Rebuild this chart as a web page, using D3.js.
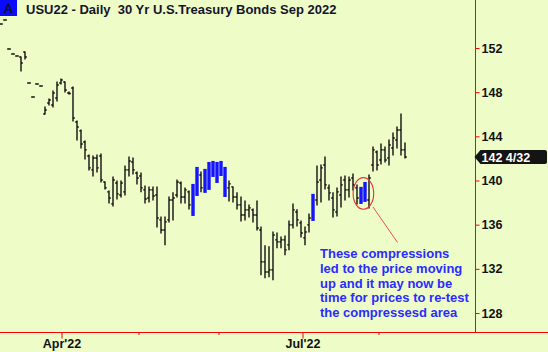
<!DOCTYPE html>
<html>
<head>
<meta charset="utf-8">
<script src="https://cdn.jsdelivr.net/npm/d3@7"></script>
<style>
    body { margin: 0; background: #eefcc8; }
    svg { display: block; font-family: "Liberation Sans", Arial, sans-serif; font-weight: bold; }
</style>
</head>
<body>
<div id="chart"></div>
<script>
// daily OHLC bars, USU22 (points)
let opens = [154.17, 154.53, 151.91, 151.45, 151.27, 151.18, 151.64, 148.83, 147.56, 148.74,
    148.56, 146.02, 147.02, 146.84, 147.47, 148.83, 148.92, 147.92, 148.38, 145.30,
    144.49, 143.49, 142.22, 140.96, 142.04, 142.22, 139.87, 138.97, 137.88, 139.78,
    138.69, 138.97, 140.96, 141.68, 140.68, 140.41, 139.15, 138.42, 139.15, 138.69,
    136.43, 135.52, 136.43, 138.24, 138.69, 139.78, 138.51, 138.97, 136.97, 139.15,
    140.50, 139.33, 140.50, 140.96, 141.41, 140.68, 141.14, 139.33, 139.42, 138.51,
    137.79, 136.88, 137.34, 137.34, 136.88, 135.52, 132.63, 131.72, 131.91, 134.62,
    134.44, 134.62, 134.17, 135.98, 137.15, 136.16, 134.80, 135.98, 136.61, 138.24,
    140.05, 141.41, 139.33, 138.42, 137.15, 138.69, 140.05, 139.15, 140.23, 139.33,
    138.24, 138.42, 138.24, 141.41, 142.58, 141.86, 142.77, 142.04, 142.95, 143.67,
    144.58, 142.77];
let highs = [154.17, 154.53, 151.91, 151.45, 151.27, 151.18, 151.64, 148.83, 147.56, 148.74,
    148.56, 146.66, 147.38, 148.11, 148.92, 149.19, 148.92, 148.02, 148.47, 145.39,
    144.58, 143.58, 142.31, 142.22, 142.31, 142.40, 139.87, 139.06, 140.32, 139.96,
    139.96, 141.32, 142.13, 142.04, 140.78, 140.68, 139.51, 139.42, 139.42, 139.42,
    136.70, 136.70, 138.51, 138.88, 140.05, 139.87, 139.33, 139.06, 139.69, 141.23,
    140.78, 141.05, 141.68, 141.77, 141.68, 141.77, 141.23, 139.96, 139.42, 138.88,
    138.51, 138.15, 137.79, 137.43, 138.15, 135.80, 134.08, 133.99, 135.34, 135.25,
    134.89, 134.98, 136.34, 137.88, 137.34, 136.34, 135.80, 136.97, 138.79, 141.32,
    141.41, 142.13, 139.60, 138.88, 139.33, 140.32, 140.41, 140.32, 140.59, 139.60,
    139.42, 139.87, 140.50, 143.04, 142.68, 143.31, 143.04, 143.67, 144.30, 144.85,
    146.02, 143.40];
let lows = [154.17, 154.53, 151.91, 151.45, 151.27, 149.92, 151.00, 148.83, 147.56, 148.74,
    148.56, 146.02, 146.84, 146.66, 147.20, 148.74, 148.02, 147.83, 145.39, 143.67,
    142.95, 141.95, 140.96, 140.41, 140.78, 139.87, 139.24, 137.97, 137.70, 138.33,
    138.51, 138.69, 140.41, 140.59, 139.69, 138.97, 137.97, 138.06, 138.24, 135.80,
    135.25, 134.17, 136.25, 136.43, 138.51, 137.97, 137.97, 137.43, 136.79, 138.60,
    138.97, 138.88, 139.15, 140.32, 139.78, 140.41, 138.51, 138.15, 138.06, 137.43,
    136.34, 136.43, 136.70, 136.25, 135.52, 131.46, 131.19, 131.28, 131.01, 133.90,
    133.90, 133.27, 133.72, 135.70, 135.89, 134.89, 134.17, 135.34, 136.34, 137.79,
    138.06, 139.24, 138.24, 136.70, 136.79, 137.61, 138.24, 138.51, 139.15, 137.88,
    137.88, 138.06, 137.52, 140.87, 140.96, 141.50, 141.68, 141.41, 142.31, 142.95,
    142.31, 142.04];
let closes = [154.17, 154.53, 151.91, 151.45, 151.27, 150.64, 151.18, 148.83, 147.56, 148.74,
    148.56, 146.39, 147.29, 147.92, 148.65, 149.10, 148.20, 147.88, 145.66, 144.85,
    143.31, 142.77, 141.14, 142.04, 141.14, 140.05, 139.33, 138.42, 140.05, 138.79,
    139.78, 140.96, 141.77, 140.96, 140.23, 139.33, 138.33, 139.15, 138.60, 136.61,
    135.52, 136.25, 138.24, 138.42, 139.87, 138.51, 139.15, 137.79, 139.51, 140.96,
    139.33, 140.78, 141.41, 141.59, 140.50, 141.50, 138.97, 139.69, 138.51, 137.79,
    136.88, 137.34, 137.52, 136.88, 135.70, 132.63, 131.72, 131.91, 135.07, 134.44,
    134.62, 133.72, 135.98, 137.34, 136.43, 135.25, 135.34, 136.61, 138.51, 139.87,
    141.14, 139.60, 138.88, 137.34, 138.97, 139.60, 139.15, 140.05, 139.60, 138.42,
    139.15, 139.60, 140.23, 142.77, 141.41, 142.77, 141.86, 143.22, 143.85, 144.58,
    142.77, 142.125];

// bars flagged as compression days (drawn blue)
let compressed = [48, 49, 51, 52, 53, 54, 55, 56, 78, 90, 91];

// month ticks sit between bars (bar index), only quarters get a label
let monthTicks = [15.25, 34.5, 54.5, 75.5, 94.5];
let monthLabels = ["Apr'22", "", "", "Jul'22", ""];

let priceTicks = [128, 132, 136, 140, 144, 148, 152];

let title = "USU22 - Daily  30 Yr U.S.Treasury Bonds Sep 2022";
let noteLines = ["These compressions", "led to the price moving", "up and it may now be",
    "time for prices to re-test", "the compressesd area"];

let width = 548,
    height = 352,
    axisX = 475.5,
    axisY = 332.5;

let svg = d3.select("#chart").append("svg")
    .attr("width", width)
    .attr("height", height);

svg.append("rect")
    .attr("width", width)
    .attr("height", height)
    .attr("fill", "#eefcc8");

let x = d3.scaleLinear().domain([0, 101]).range([1, 405]);
let y = d3.scaleLinear().domain([128, 152]).range([313, 48]);

let bars = d3.range(opens.length).map(function(i) {
    return { i: i, o: opens[i], h: highs[i], l: lows[i], c: closes[i], blue: compressed.indexOf(i) >= 0 };
});

// axes
svg.append("line")
    .attr("x1", 0).attr("x2", width)
    .attr("y1", axisY).attr("y2", axisY)
    .attr("stroke", "#f00");

svg.append("line")
    .attr("x1", axisX).attr("x2", axisX)
    .attr("y1", 0).attr("y2", axisY)
    .attr("stroke", "#f00");

let yAxis = svg.append("g")
    .attr("transform", "translate(" + axisX + ",0)")
    .call(d3.axisRight(y).tickValues(priceTicks).tickSize(4).tickPadding(2));
yAxis.select(".domain").remove();
yAxis.selectAll(".tick line").attr("stroke", "#f00");
yAxis.selectAll(".tick text")
    .attr("fill", "#111")
    .style("font-size", "12.5px")
    .style("font-family", "'Liberation Sans', Arial, sans-serif")
    .style("font-weight", "bold");

let xTicks = svg.append("g").selectAll("g")
    .data(monthTicks)
    .enter().append("g");
xTicks.append("line")
    .attr("x1", function(d) { return x(d); })
    .attr("x2", function(d) { return x(d); })
    .attr("y1", axisY)
    .attr("y2", function(d, i) { return monthLabels[i] ? axisY + 6 : axisY + 2.5; })
    .attr("stroke", "#f00");
xTicks.append("text")
    .attr("x", function(d) { return x(d); })
    .attr("y", 348)
    .attr("text-anchor", "middle")
    .attr("fill", "#111")
    .style("font-size", "12.5px")
    .text(function(d, i) { return monthLabels[i]; });

// OHLC bars
let black = bars.filter(function(d) { return !d.blue; });
let ohlc = svg.append("g")
    .attr("stroke", "#111")
    .attr("stroke-width", 1.4)
    .selectAll("g")
    .data(black)
    .enter().append("g");

ohlc.filter(function(d) { return d.h > d.l; })
    .append("line")
    .attr("x1", function(d) { return x(d.i); })
    .attr("x2", function(d) { return x(d.i); })
    .attr("y1", function(d) { return y(d.h) - 0.5; })
    .attr("y2", function(d) { return y(d.l) + 0.5; });
ohlc.append("line")
    .attr("x1", function(d) { return x(d.i) - 1.8; })
    .attr("x2", function(d) { return x(d.i); })
    .attr("y1", function(d) { return y(d.o); })
    .attr("y2", function(d) { return y(d.o); });
ohlc.append("line")
    .attr("x1", function(d) { return x(d.i); })
    .attr("x2", function(d) { return x(d.i) + 1.8; })
    .attr("y1", function(d) { return y(d.c); })
    .attr("y2", function(d) { return y(d.c); });

// compression bars
svg.append("g").selectAll("rect")
    .data(bars.filter(function(d) { return d.blue; }))
    .enter().append("rect")
    .attr("x", function(d) { return x(d.i) - 1.7; })
    .attr("width", 3.4)
    .attr("y", function(d) { return y(d.h); })
    .attr("height", function(d) { return y(d.l) - y(d.h); })
    .attr("fill", "#1414ff");

// last price flag
let last = closes[closes.length - 1];
function toThirtySeconds(p) {
    let whole = Math.floor(p);
    return whole + " " + Math.round((p - whole) * 32) + "/32";
}
let ly = y(last);
svg.append("path")
    .attr("d", "M" + (axisX - 1) + "," + ly + " L" + (axisX + 5) + "," + (ly - 7) +
        " H545 Q547," + (ly - 7) + " 547," + (ly - 5) + " V" + (ly + 5) +
        " Q547," + (ly + 7) + " 545," + (ly + 7) + " H" + (axisX + 5) + " Z")
    .attr("fill", "#141414");
svg.append("text")
    .attr("x", axisX + 6)
    .attr("y", ly + 4.5)
    .attr("fill", "#fff")
    .style("font-size", "12.5px")
    .text(toThirtySeconds(last));

// title
svg.append("rect")
    .attr("width", 17)
    .attr("height", 16)
    .attr("fill", "#0a0aff");
svg.append("text")
    .attr("x", 8.5)
    .attr("y", 13)
    .attr("text-anchor", "middle")
    .attr("fill", "#111")
    .style("font-size", "13px")
    .text("A");
svg.append("text")
    .attr("x", 26)
    .attr("y", 14)
    .attr("fill", "#15152a")
    .style("font-size", "13px")
    .style("white-space", "pre")
    .text(title);

// annotation
svg.append("ellipse")
    .attr("cx", x(90.6))
    .attr("cy", y(138.83))
    .attr("rx", 10.3)
    .attr("ry", 15.8)
    .attr("fill", "none")
    .attr("stroke", "#e83030")
    .attr("stroke-width", 1.1);
svg.append("line")
    .attr("x1", 373).attr("y1", 207)
    .attr("x2", 397.5).attr("y2", 242.5)
    .attr("stroke", "#e85050")
    .attr("stroke-width", 1);

svg.append("g").selectAll("text")
    .data(noteLines)
    .enter().append("text")
    .attr("x", 320)
    .attr("y", function(d, i) { return 258 + i * 14.8; })
    .attr("fill", "#2b2bff")
    .style("font-size", "13px")
    .text(function(d) { return d; });
</script>
</body>
</html>
